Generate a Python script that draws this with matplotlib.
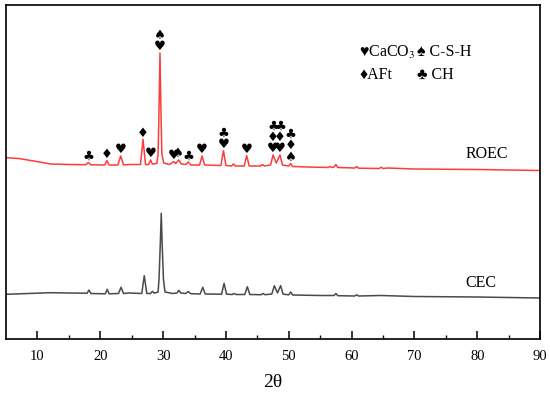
import numpy as np
import matplotlib
matplotlib.use("Agg")
import matplotlib.pyplot as plt

# ---------------- data ----------------
roec_2theta = [5, 7, 9.4, 12.1, 15, 17.7, 18.1, 18.5, 20.7, 21.05, 21.4, 22.8, 23.25, 23.7,
               24.5, 26.4, 26.8, 27.2, 27.7, 28.0, 28.3, 29.0, 29.2, 29.35, 29.5, 29.65, 29.8,
               30.1, 31.0, 31.7, 32.0, 32.5, 32.9, 33.6, 34.0, 34.4, 35.8, 36.2, 36.6, 39.2,
               39.6, 40.0, 40.9, 41.2, 41.5, 42.9, 43.3, 43.7, 45.5, 45.8, 46.1, 47.1, 47.5,
               48.0, 48.6, 49.0, 50.0, 50.3, 50.6, 53, 56.3, 56.6, 56.9, 57.2, 57.5, 57.8,
               60.5, 60.8, 61.1, 64.4, 64.7, 65.0, 65.7, 70, 80, 90]
roec_int = [181.3, 180.5, 178, 175, 174.5, 174.3, 176.5, 174.2, 174, 178.3, 174, 174, 183, 174,
            174.5, 174.5, 199.7, 174.5, 174.5, 179, 175, 175.5, 185, 230, 286, 230, 185,
            176, 174.5, 177.5, 175.5, 179, 175, 174.5, 177, 174, 174, 183, 174, 173.5,
            188.3, 173.5, 173, 175, 173, 173, 183.3, 173, 173, 174.5, 173, 174, 184,
            176, 184, 174, 173, 175.5, 172.5, 172, 171.5, 172.5, 171.5, 172, 174.5, 171.5,
            171, 172.5, 170.8, 170.5, 171.8, 170.5, 171, 170, 169.5, 168.5]

cec_2theta = [5, 9.4, 12.1, 15, 17.9, 18.2, 18.5, 20.8, 21.1, 21.4, 22.9, 23.3, 23.7, 24.5,
              26.6, 27.0, 27.4, 28.0, 28.3, 28.6, 29.2, 29.35, 29.55, 29.7, 29.85, 30.05,
              30.3, 31.5, 32.2, 32.5, 32.8, 33.6, 34.0, 34.4, 35.9, 36.3, 36.7, 39.3, 39.7,
              40.1, 41.0, 41.3, 41.6, 43.0, 43.4, 43.8, 45.6, 45.9, 46.2, 47.3, 47.7, 48.2,
              48.7, 49.1, 50.0, 50.3, 50.6, 55, 57.2, 57.5, 57.8, 60.5, 60.8, 61.1, 64.7,
              70, 80, 90]
cec_int = [44.7, 45.7, 46.3, 46, 45.8, 49, 45.5, 45.2, 49.7, 45.2, 45.5, 51.7, 45.5, 46,
           45.5, 63.3, 45.5, 45.5, 47.7, 45.8, 47, 60, 95, 125.7, 95, 60,
           47, 45.5, 46, 48.7, 46, 45.5, 47.5, 45.3, 45, 51.7, 45, 44.8, 55.7,
           44.8, 44.5, 45.5, 44.5, 44.5, 52.3, 44.5, 44.3, 45.5, 44.3, 45, 53.3, 46,
           53.3, 44.8, 44.2, 47, 44, 43.5, 43.5, 45.5, 43.3, 43, 44.2, 43, 43.5,
           42.5, 42, 41]

# phase marks above ROEC peaks (bottom -> top)
mark_2theta = [18.1, 21.0, 23.2, 26.8, 28.1, 29.5, 31.7, 32.4, 34.0, 36.2, 39.6, 43.3,
               47.5, 48.6, 50.3]
mark_symbols = ["♣", "♦", "♥", "♦", "♥", "♥♠", "♥", "♠", "♣", "♥", "♥♣", "♥",
                "♥♦♣", "♥♦♣", "♠♦♣"]

series_names = ["ROEC", "CEC"]
xticks = [10, 20, 30, 40, 50, 60, 70, 80, 90]

# ---------------- figure ----------------
plt.rcParams["font.family"] = ["Liberation Serif", "DejaVu Sans"]
plt.rcParams["mathtext.fontset"] = "stix"

fig = plt.figure(figsize=(5.5, 3.93), dpi=100)
ax = fig.add_axes([0.011, 0.1374, 0.971, 0.8499])

ax.plot(roec_2theta, roec_int, color="#ff3b3b", lw=1.1)
ax.plot(cec_2theta, cec_int, color="#4a4a4a", lw=1.1)

ax.set_xlim(5, 90)
ax.set_ylim(0, 334)
ax.set_yticks([])
ax.set_xticks(xticks)
ax.set_xticks(np.arange(15, 90, 10), minor=True)
ax.tick_params(axis="x", which="major", direction="in", length=6, width=1.1,
               labelsize=10.5, pad=8, top=False)
ax.tick_params(axis="x", which="minor", direction="in", length=3, width=1.0, top=False)
for s in ax.spines.values():
    s.set_linewidth(1.2)
ax.set_xlabel("2θ", fontsize=14, labelpad=8)

# phase marks
rx = np.array(roec_2theta)
ry = np.array(roec_int)
sym_font = dict(family=["DejaVu Sans"], fontsize=9.5, ha="center", va="center", color="black")
for x, syms in zip(mark_2theta, mark_symbols):
    win = (rx >= x - 0.35) & (rx <= x + 0.35)
    top = ry[win].max() if win.any() else np.interp(x, rx, ry)
    for k, s in enumerate(syms):
        ax.text(x, top + 6 + 11.5 * k, s, **sym_font)

# series labels
ax.text(78.1, np.interp(78, rx, ry) + 15, series_names[0], fontsize=11.5, ha="left", va="center")
ax.text(78.1, np.interp(78, cec_2theta, cec_int) + 14, series_names[1], fontsize=11.5,
        ha="left", va="center")

# key
key_kw = dict(transform=ax.transAxes, fontsize=11.5, ha="left", va="center")
ax.text(0.661, 0.859, "♥CaCO$_3$", **key_kw)
ax.text(0.770, 0.859, "♠ C-S-H", **key_kw)
ax.text(0.661, 0.790, "♦AFt", **key_kw)
ax.text(0.770, 0.790, "♣ CH", **key_kw)

fig.savefig("out.png", dpi=100)
